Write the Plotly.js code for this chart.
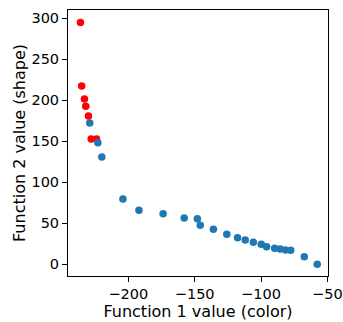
<!DOCTYPE html>
<html>
<head>
<meta charset="utf-8">
<script src="https://cdn.plot.ly/plotly-3.0.1.min.js"></script>
<style>
  html, body { margin: 0; padding: 0; background: #fff; }
  #chart { width: 343px; height: 322px; }
</style>
</head>
<body>
<div id="chart"></div>
<script>
// Red points (highlighted set)
const redX = [-236.1, -235.2, -233.1, -232.1, -230.1, -228.0, -224.0];
const redY = [295.0, 217.4, 201.6, 192.7, 180.9, 152.8, 152.8];

// Blue points
const blueX = [-229.1, -223.0, -220.0, -204.1, -192.0, -173.8, -157.9, -148.0, -145.8, -135.9,
               -125.8, -117.7, -111.9, -105.8, -99.8, -95.8, -89.7, -85.6, -81.6, -77.6, -67.4, -57.6];
const blueY = [172.3, 148.3, 130.7, 79.6, 65.8, 61.7, 56.5, 55.6, 47.6, 42.7,
               36.6, 32.4, 29.6, 26.8, 24.4, 21.5, 19.5, 18.7, 17.4, 17.1, 9.3, 0.0];

const xTickVals = [-200, -150, -100, -50];
const yTickVals = [0, 50, 100, 150, 200, 250, 300];

const xTitle = 'Function 1 value (color)';
const yTitle = 'Function 2 value (shape)';

const font = 'DejaVu Sans, sans-serif';

const traces = [
  { x: redX, y: redY, type: 'scatter', mode: 'markers',
    marker: { color: '#ff0000', size: 7.5 }, hoverinfo: 'skip' },
  { x: blueX, y: blueY, type: 'scatter', mode: 'markers',
    marker: { color: '#1f77b4', size: 7.5 }, hoverinfo: 'skip' }
];

const axisCommon = {
  showgrid: false, zeroline: false,
  showline: true, mirror: true, linecolor: '#000', linewidth: 1,
  ticks: 'outside', ticklen: 5, tickwidth: 1, tickcolor: '#000',
  tickfont: { family: font, size: 14.5, color: '#000' }
};

const layout = {
  width: 343, height: 322,
  margin: { l: 68, r: 15, t: 10, b: 46 },
  paper_bgcolor: '#fff', plot_bgcolor: '#fff',
  showlegend: false,
  font: { family: font, color: '#000' },
  xaxis: Object.assign({}, axisCommon, {
    range: [-245.5, -49.5],
    tickvals: xTickVals,
    title: { text: xTitle, font: { family: font, size: 16, color: '#000' }, standoff: 3 }
  }),
  yaxis: Object.assign({}, axisCommon, {
    range: [-14.3, 310.1],
    tickvals: yTickVals,
    title: { text: yTitle, font: { family: font, size: 16, color: '#000' }, standoff: 1 }
  })
};

Plotly.newPlot('chart', traces, layout, { staticPlot: true, displayModeBar: false });
</script>
</body>
</html>
